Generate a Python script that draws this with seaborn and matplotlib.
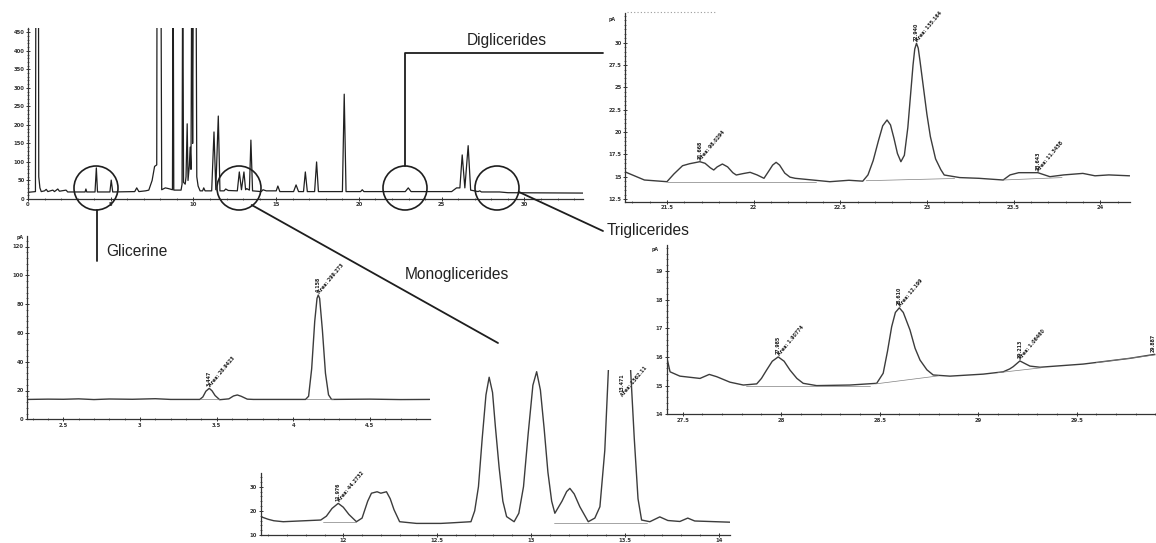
import numpy as np
import matplotlib
matplotlib.use("Agg")
import matplotlib.pyplot as plt
import seaborn as sns
from matplotlib import font_manager
from matplotlib.patches import Circle
from matplotlib.ticker import FixedLocator

# ------------------------------------------------------------------ data
# full chromatogram (time in min, signal in pA); off-scale peaks are clipped
main_trace = [
    (0.00, 18), (0.45, 20), (0.48, 700), (0.63, 700), (0.65, 60), (0.72, 30), (0.80, 20),
    (1.00, 22), (1.10, 26), (1.20, 20), (1.50, 24), (1.60, 20), (1.80, 27), (1.90, 21),
    (2.30, 24), (2.40, 19), (3.00, 19), (3.45, 19), (3.50, 27), (3.55, 19), (4.05, 19),
    (4.13, 84), (4.20, 19), (4.95, 19), (5.03, 51), (5.12, 19), (6.45, 20), (6.57, 30),
    (6.70, 20), (7.10, 22), (7.30, 24), (7.50, 50), (7.65, 88), (7.78, 92), (7.80, 700),
    (8.03, 700), (8.08, 25), (8.30, 30), (8.50, 28), (8.73, 25), (8.77, 700), (8.81, 24),
    (9.25, 24), (9.31, 40), (9.35, 700), (9.40, 45), (9.50, 40), (9.55, 60), (9.62, 203),
    (9.67, 50), (9.75, 90), (9.80, 140), (9.85, 80), (9.90, 700), (9.95, 150), (10.00, 700),
    (10.15, 700), (10.20, 60), (10.28, 35), (10.40, 22), (10.55, 22), (10.62, 30), (10.70, 22),
    (11.10, 22), (11.24, 181), (11.35, 25), (11.50, 224), (11.60, 22), (11.85, 22), (11.95, 27),
    (12.10, 23), (12.65, 22), (12.77, 73), (12.90, 25), (13.05, 73), (13.15, 25), (13.22, 28),
    (13.38, 24), (13.47, 159), (13.57, 22), (14.10, 20), (14.20, 25), (14.40, 22), (15.00, 22),
    (15.10, 35), (15.22, 20), (16.05, 20), (16.20, 38), (16.35, 20), (16.65, 20), (16.76, 73),
    (16.88, 20), (17.32, 20), (17.44, 100), (17.55, 20), (19.00, 20), (19.11, 283), (19.22, 20),
    (20.10, 20), (20.20, 25), (20.30, 20), (22.80, 20), (22.98, 30), (23.15, 20), (25.60, 20),
    (25.90, 30), (26.10, 30), (26.24, 119), (26.40, 30), (26.60, 144), (26.75, 24), (27.20, 20),
    (27.30, 22), (27.40, 19), (28.50, 19), (29.00, 17), (33.54, 16),
]
main_xticks = [0, 5, 10, 15, 20, 25, 30]
main_xticklabels = ["0", "5", "10", "15", "20", "25", "30"]
main_yticks = [0, 50, 100, 150, 200, 250, 300, 350, 400, 450]
main_yticklabels = ["0", "50", "100", "150", "200", "250", "300", "350", "400", "450"]

# glycerine zoom
gly_trace = [
    (2.27, 13.8), (2.40, 14.0), (2.50, 13.9), (2.60, 14.2), (2.70, 13.7), (2.80, 14.1),
    (2.95, 13.9), (3.10, 14.3), (3.20, 13.8), (3.39, 13.8), (3.41, 15.5), (3.43, 19.5),
    (3.452, 21.5), (3.47, 19.8), (3.49, 16.5), (3.52, 13.6), (3.58, 14.2), (3.61, 16.2),
    (3.635, 16.9), (3.66, 16.0), (3.70, 14.0), (3.74, 13.8),
    (4.08, 13.8), (4.10, 16.0), (4.12, 35.0), (4.14, 68.0), (4.155, 84.0), (4.163, 86.3),
    (4.172, 84.0), (4.19, 62.0), (4.21, 32.0), (4.23, 17.0), (4.25, 13.8),
    (4.50, 14.0), (4.70, 13.7), (4.89, 13.8),
]
gly_baselines = [[(3.40, 13.8), (3.52, 13.6)], [(4.08, 13.8), (4.26, 13.8)]]
gly_peaks = [(3.452, 21.5, "3.447", "Area: 28.9423"), (4.163, 86.3, "4.158", "Area: 299.273")]
gly_xticks = [2.5, 3.0, 3.5, 4.0, 4.5]
gly_xticklabels = ["2.5", "3", "3.5", "4", "4.5"]
gly_yticks = [0, 20, 40, 60, 80, 100, 120]
gly_yticklabels = ["0", "20", "40", "60", "80", "100", "120"]

# monoglycerides zoom
mono_trace = [
    (11.56, 17.6), (11.60, 16.5), (11.63, 15.9), (11.68, 15.5), (11.88, 16.2), (11.91, 17.8),
    (11.94, 21.0), (11.973, 23.1), (12.00, 21.5), (12.03, 18.5), (12.07, 15.5), (12.10, 17.0),
    (12.13, 24.0), (12.15, 27.3), (12.18, 27.9), (12.20, 27.3), (12.23, 27.9), (12.25, 25.0),
    (12.27, 20.5), (12.30, 15.5), (12.39, 14.8), (12.52, 14.8), (12.57, 15.0), (12.68, 15.5),
    (12.70, 20.0), (12.72, 30.0), (12.74, 50.0), (12.76, 68.0), (12.777, 75.3), (12.795, 69.0),
    (12.81, 55.0), (12.83, 38.0), (12.85, 24.0), (12.87, 17.6), (12.91, 15.5), (12.935, 19.0),
    (12.96, 30.0), (12.985, 52.0), (13.01, 72.0), (13.03, 77.6), (13.05, 70.0), (13.07, 54.0),
    (13.09, 36.0), (13.11, 24.0), (13.127, 19.0), (13.165, 24.0), (13.19, 28.0), (13.207, 29.3),
    (13.23, 27.0), (13.26, 21.7), (13.305, 15.5), (13.34, 17.0), (13.367, 21.7), (13.393, 45.0),
    (13.416, 85.0), (13.473, 110.0), (13.526, 85.0), (13.55, 50.0), (13.57, 25.0), (13.589, 16.2),
    (13.633, 15.5), (13.686, 17.5), (13.729, 16.0), (13.793, 15.6), (13.835, 17.0), (13.872, 15.8),
    (14.06, 15.3),
]
mono_baselines = [[(11.89, 15.5), (12.07, 15.5)], [(13.12, 14.8), (13.62, 14.8)]]
mono_peaks = [(11.973, 23.1, "11.976", "Area: 44.2732")]
mono_clipped_peak = (13.485, 77.0, "13.471", "Area: 1562.11")
mono_xticks = [12.0, 12.5, 13.0, 13.5, 14.0]
mono_xticklabels = ["12", "12.5", "13", "13.5", "14"]
mono_yticks = [10, 20, 30]
mono_yticklabels = ["10", "20", "30"]

# diglycerides zoom
dig_trace = [
    (21.256, 15.56), (21.30, 15.20), (21.37, 14.63), (21.50, 14.44), (21.54, 15.30),
    (21.59, 16.23), (21.63, 16.45), (21.69, 16.68), (21.72, 16.50), (21.75, 16.00),
    (21.77, 15.75), (21.79, 16.10), (21.82, 16.42), (21.85, 16.10), (21.88, 15.45),
    (21.90, 15.19), (21.94, 15.35), (21.98, 15.49), (22.02, 15.20), (22.06, 14.82),
    (22.09, 15.70), (22.11, 16.30), (22.13, 16.61), (22.15, 16.30), (22.18, 15.40),
    (22.21, 14.95), (22.24, 14.82), (22.44, 14.44), (22.55, 14.60), (22.63, 14.50),
    (22.66, 15.20), (22.69, 16.80), (22.72, 19.00), (22.745, 20.70), (22.77, 21.35),
    (22.79, 20.80), (22.81, 19.30), (22.83, 17.60), (22.85, 16.68), (22.87, 17.40),
    (22.89, 20.50), (22.905, 24.00), (22.92, 27.50), (22.93, 29.30), (22.94, 29.94),
    (22.95, 29.40), (22.96, 28.00), (22.98, 25.00), (23.00, 22.00), (23.02, 19.50),
    (23.05, 17.00), (23.08, 15.80), (23.10, 15.19), (23.19, 14.90), (23.30, 14.82),
    (23.44, 14.63), (23.48, 15.20), (23.53, 15.45), (23.64, 15.45), (23.71, 15.00),
    (23.79, 15.20), (23.90, 15.37), (23.97, 15.10), (24.05, 15.20), (24.17, 15.10),
]
dig_baselines = [[(21.50, 14.44), (22.36, 14.44)], [(22.65, 14.55), (23.16, 14.80)],
                 [(23.44, 14.63), (23.78, 14.90)]]
dig_peaks = [(21.69, 16.68, "21.668", "Area: 98.0294"), (22.94, 29.94, "22.940", "Area: 135.164"),
             (23.64, 15.45, "23.643", "Area: 11.3458")]
dig_xticks = [21.5, 22.0, 22.5, 23.0, 23.5, 24.0]
dig_xticklabels = ["21.5", "22", "22.5", "23", "23.5", "24"]
dig_yticks = [12.5, 15, 17.5, 20, 22.5, 25, 27.5, 30]
dig_yticklabels = ["12.5", "15", "17.5", "20", "22.5", "25", "27.5", "30"]

# triglycerides zoom
tri_trace = [
    (27.419, 16.00), (27.436, 15.48), (27.486, 15.33), (27.588, 15.25), (27.635, 15.39),
    (27.673, 15.31), (27.74, 15.12), (27.808, 15.02), (27.876, 15.06), (27.90, 15.25),
    (27.926, 15.54), (27.955, 15.85), (27.985, 16.00), (28.015, 15.85), (28.045, 15.54),
    (28.08, 15.25), (28.112, 15.08), (28.180, 15.00), (28.349, 15.02), (28.485, 15.08),
    (28.518, 15.43), (28.54, 16.20), (28.561, 17.05), (28.58, 17.55), (28.600, 17.71),
    (28.62, 17.55), (28.654, 16.94), (28.68, 16.30), (28.705, 15.89), (28.74, 15.55),
    (28.772, 15.37), (28.857, 15.33), (29.026, 15.40), (29.127, 15.48), (29.16, 15.58),
    (29.178, 15.66), (29.212, 15.86), (29.24, 15.76), (29.263, 15.68), (29.314, 15.64),
    (29.533, 15.75), (29.770, 15.95), (29.897, 16.09),
]
tri_baselines = [[(27.82, 15.00), (28.45, 15.00)], [(28.48, 15.06), (28.80, 15.34)],
                 [(29.10, 15.45), (29.32, 15.62)], [(29.60, 15.80), (29.90, 16.07)]]
tri_peaks = [(27.985, 16.00, "27.985", "Area: 1.90774"), (28.600, 17.71, "28.610", "Area: 12.199"),
             (29.212, 15.86, "29.213", "Area: 1.06460"), (29.890, 16.08, "29.887", "")]
tri_xticks = [27.5, 28.0, 28.5, 29.0, 29.5]
tri_xticklabels = ["27.5", "28", "28.5", "29", "29.5"]
tri_yticks = [14, 15, 16, 17, 18, 19]
tri_yticklabels = ["14", "15", "16", "17", "18", "19"]

callout_labels = ["Glicerine", "Monoglicerides", "Diglicerides", "Triglicerides"]

# ------------------------------------------------------------------ style
sns.set_theme(style="white")
names = {f.name for f in font_manager.fontManager.ttflist}
if "Liberation Sans Narrow" in names:
    LABEL_FONT, LABEL_SIZE = "Liberation Sans Narrow", 12.7
else:
    LABEL_FONT, LABEL_SIZE = "Liberation Sans", 11.2
plt.rcParams["font.family"] = ["DejaVu Sans"]

W, H, DPI = 1156, 543, 100
TRACE = "#3c3c3c"
INK = "#1e1e1e"
fig = plt.figure(figsize=(W / DPI, H / DPI), dpi=DPI)
fig.patch.set_facecolor("white")


def px_axes(x0, y0, x1, y1):
    ax = fig.add_axes([x0 / W, 1 - y1 / H, (x1 - x0) / W, (y1 - y0) / H])
    ax.patch.set_alpha(0)
    return ax


def style(ax, xlim, ylim, xt, xtl, yt, ytl, xminor, yminor, ybounds=None):
    ax.set_xlim(*xlim)
    ax.set_ylim(*ylim)
    ax.set_xticks(xt, labels=xtl)
    ax.set_yticks(yt, labels=ytl)
    lo = ybounds[0] if ybounds else ylim[0]
    hi = ybounds[1] if ybounds else ylim[1]
    ax.xaxis.set_minor_locator(FixedLocator(np.arange(xlim[0] - xlim[0] % xminor, xlim[1], xminor)))
    ax.yaxis.set_minor_locator(FixedLocator(np.arange(lo - lo % yminor, hi, yminor)))
    for s in ["top", "right"]:
        ax.spines[s].set_visible(False)
    for s in ["left", "bottom"]:
        ax.spines[s].set_linewidth(0.9)
        ax.spines[s].set_color("#333333")
    if ybounds:
        ax.spines["left"].set_bounds(*ybounds)
    ax.tick_params(which="major", direction="inout", length=2.6, width=0.7, labelsize=3.8,
                   pad=1.2, colors="#333333", left=True, bottom=True)
    ax.tick_params(which="minor", direction="inout", length=1.5, width=0.5, colors="#333333",
                   left=True, bottom=True)
    for lab in ax.get_xticklabels() + ax.get_yticklabels():
        lab.set_fontweight("bold")
    ax.set_xlabel("")
    ax.set_ylabel("")
    ax.grid(False)


def trace(ax, data, lw=1.0, color=TRACE):
    t, v = zip(*data)
    sns.lineplot(x=list(t), y=list(v), ax=ax, color=color, linewidth=lw, sort=False,
                 estimator=None)


def baselines(ax, segs):
    for seg in segs:
        t, v = zip(*seg)
        sns.lineplot(x=list(t), y=list(v), ax=ax, color="#808080", linewidth=0.5,
                     sort=False, estimator=None)


def peak_notes(ax, peaks, up=2.0):
    for t, v, rt, area in peaks:
        ax.annotate(rt, (t, v), xytext=(0, up), textcoords="offset points", rotation=90,
                    ha="center", va="bottom", fontsize=3.4, fontweight="bold",
                    color="#222222", annotation_clip=False)
        if area:
            ax.annotate(area, (t, v), xytext=(1.6, 0.3), textcoords="offset points", rotation=50,
                        rotation_mode="anchor", ha="left", va="bottom", fontsize=3.4,
                        fontweight="bold", color="#222222", annotation_clip=False)


# ---- main chromatogram
ax_main = px_axes(28, 28, 583, 199)
trace(ax_main, main_trace, lw=0.9, color="#202020")
style(ax_main, (0, 33.54), (0, 461.7), main_xticks, main_xticklabels, main_yticks,
      main_yticklabels, 1, 10)

# ---- glycerine
ax_gly = px_axes(27.3, 235.7, 430, 419.3)
trace(ax_gly, gly_trace)
baselines(ax_gly, gly_baselines)
style(ax_gly, (2.265, 4.892), (0, 127.5), gly_xticks, gly_xticklabels, gly_yticks,
      gly_yticklabels, 0.1, 4)
peak_notes(ax_gly, gly_peaks)

# ---- monoglycerides
ax_mono = px_axes(260.7, 370, 730, 535)
trace(ax_mono, mono_trace)
baselines(ax_mono, mono_baselines)
style(ax_mono, (11.56, 14.06), (10, 78.3), mono_xticks, mono_xticklabels, mono_yticks,
      mono_yticklabels, 0.1, 2, ybounds=(10, 35.5))
peak_notes(ax_mono, mono_peaks)
t, v, rt, area = mono_clipped_peak
ax_mono.text(t, v, rt, rotation=90, ha="center", va="top", fontsize=3.4, fontweight="bold",
             color="#222222")
ax_mono.annotate(area, (t + 0.01, v - 10), xytext=(0, 0), textcoords="offset points",
                 rotation=50, rotation_mode="anchor", ha="left", va="bottom", fontsize=3.4,
                 fontweight="bold", color="#222222")

# ---- diglycerides
ax_dig = px_axes(625, 13.3, 1130, 201.7)
trace(ax_dig, dig_trace)
baselines(ax_dig, dig_baselines)
style(ax_dig, (21.258, 24.172), (12.2, 33.3), dig_xticks, dig_xticklabels, dig_yticks,
      dig_yticklabels, 0.1, 0.5)
peak_notes(ax_dig, dig_peaks)

# ---- triglycerides
ax_tri = px_axes(666.7, 245, 1156, 414.3)
trace(ax_tri, tri_trace)
baselines(ax_tri, tri_baselines)
style(ax_tri, (27.419, 29.903), (14, 19.9), tri_xticks, tri_xticklabels, tri_yticks,
      tri_yticklabels, 0.1, 0.2)
peak_notes(ax_tri, tri_peaks)

# ------------------------------------------------------------------ callouts (pixel overlay)
ov = fig.add_axes([0, 0, 1, 1], zorder=10)
ov.set_xlim(0, W)
ov.set_ylim(H, 0)
ov.axis("off")
ov.patch.set_alpha(0)

for cx in [96, 239, 405, 497]:
    ov.add_patch(Circle((cx, 188), 22, fill=False, lw=1.2, ec=INK))

ov.plot([96.7, 96.7], [210, 261], color=INK, lw=1.3)
ov.plot([251.7, 498], [205, 343], color=INK, lw=1.3)
ov.plot([405, 405, 603], [166, 53, 53], color=INK, lw=1.3)
ov.plot([519, 603], [192, 231], color=INK, lw=1.3)
ov.plot([627, 717], [12, 12], color="#9a9a9a", lw=0.8, ls=(0, (1, 2)))

kw = dict(family=[LABEL_FONT, "DejaVu Sans"], fontsize=LABEL_SIZE, color="#222222")
ov.text(106, 252, callout_labels[0], ha="left", va="center", **kw)
ov.text(405, 275, callout_labels[1], ha="left", va="center", **kw)
ov.text(507, 40, callout_labels[2], ha="center", va="center", **kw)
ov.text(607, 231, callout_labels[3], ha="left", va="center", **kw)

for x, y in [(612, 19), (20, 237), (655, 249)]:
    ov.text(x, y, "pA", ha="center", va="center", fontsize=3.4, fontweight="bold", color="#333333")

fig.savefig("out.png", dpi=DPI, facecolor="white")
